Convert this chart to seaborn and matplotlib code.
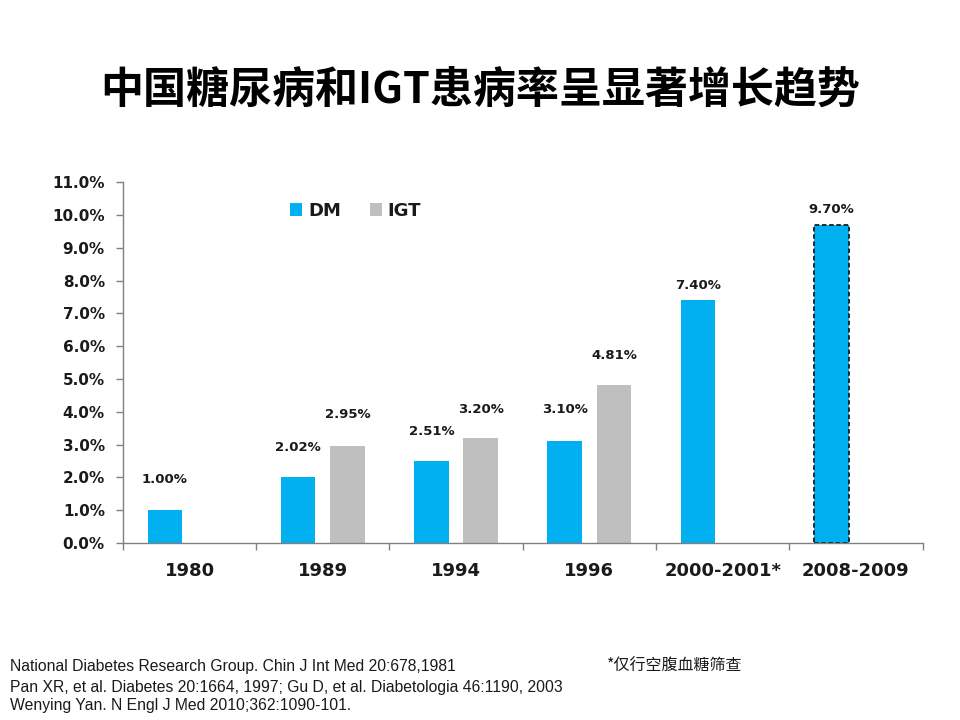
import numpy as np
import pandas as pd
import matplotlib
matplotlib.use("Agg")
import matplotlib.pyplot as plt
from matplotlib.ticker import FuncFormatter, FixedLocator
import seaborn as sns

# ---- data ----
periods = ["1980", "1989", "1994", "1996", "2000-2001*", "2008-2009"]
dm_values = [1.00, 2.02, 2.51, 3.10, 7.40, 9.70]
igt_values = [np.nan, 2.95, 3.20, 4.81, np.nan, np.nan]
series_names = ["DM", "IGT"]
title = "中国糖尿病和IGT患病率呈显著增长趋势"
footnotes = [
    "National Diabetes Research Group. Chin J Int Med 20:678,1981",
    "Pan XR, et al. Diabetes 20:1664, 1997; Gu D, et al. Diabetologia 46:1190, 2003",
    "Wenying Yan. N Engl J Med 2010;362:1090-101.",
]
note = "*仅行空腹血糖筛查"

rows = []
for p, d, g in zip(periods, dm_values, igt_values):
    rows.append({"period": p, "type": "DM", "value": d})
    rows.append({"period": p, "type": "IGT", "value": g})
df = pd.DataFrame(rows).dropna()

sns.set_theme(style="white")
plt.rcParams["font.family"] = ["DejaVu Sans"]

fig = plt.figure(figsize=(9.6, 7.2), dpi=100)
ax = fig.add_axes([0.128, 0.246, 0.833, 0.501])

sns.barplot(data=df, x="period", y="value", hue="type", order=periods,
            hue_order=series_names, palette={"DM": "#00B0F0", "IGT": "#BFBFBF"},
            width=0.74, gap=0.3, errorbar=None, ax=ax, linewidth=0,
            saturation=1)

# dashed outline on the last DM bar
last = ax.containers[0][len(periods) - 1]
last.set_edgecolor("#1a1a1a")
last.set_linestyle((0, (2.5, 1.5)))
last.set_linewidth(1.3)

# value labels
pads = {"DM": [17, 16, 16, 18, 6, 6], "IGT": [0, 18, 16, 17, 0, 0]}
for cont, name in zip(ax.containers, series_names):
    present = [p for p in periods if p in set(df[df.type == name].period)]
    for bar, p in zip(cont, present):
        i = periods.index(p)
        h = bar.get_height()
        ax.annotate(f"{h:.2f}%", (bar.get_x() + bar.get_width() / 2, h),
                    xytext=(0, pads[name][i]), textcoords="offset points",
                    ha="center", va="bottom", fontsize=9.5, fontweight="bold",
                    color="#1a1a1a")

ax.set_ylim(0, 11)
ax.set_xlim(-0.5, len(periods) - 0.5)
ax.yaxis.set_major_locator(FixedLocator(np.arange(0, 11.01, 1.0)))
ax.yaxis.set_major_formatter(FuncFormatter(lambda v, _: f"{v:.1f}%"))
ax.set_xlabel("")
ax.set_ylabel("")
for lab in ax.get_yticklabels():
    lab.set_fontweight("bold")
    lab.set_fontsize(11)
    lab.set_color("#1a1a1a")
for lab in ax.get_xticklabels():
    lab.set_fontweight("bold")
    lab.set_fontsize(13)
    lab.set_color("#1a1a1a")

ax.xaxis.set_minor_locator(FixedLocator(np.arange(-0.5, len(periods), 1.0)))
ax.tick_params(axis="x", which="major", length=0, pad=14)
ax.tick_params(axis="x", which="minor", length=5, color="#808080", width=1,
               direction="out", bottom=True)
ax.tick_params(axis="y", which="major", length=5, color="#808080", width=1,
               direction="out", left=True, pad=8)

for s in ["top", "right"]:
    ax.spines[s].set_visible(False)
for s in ["left", "bottom"]:
    ax.spines[s].set_color("#808080")
    ax.spines[s].set_linewidth(1)
ax.grid(False)

leg = ax.legend(loc="upper left", bbox_to_anchor=(0.285, 0.742),
                bbox_transform=fig.transFigure, frameon=False, ncol=2,
                handlelength=0.7, handleheight=0.7, handletextpad=0.3,
                columnspacing=1.6, prop={"weight": "bold", "size": 13})
for t in leg.get_texts():
    t.set_color("#1a1a1a")

fig.text(0.5, 0.875, title, ha="center", va="center", fontsize=31,
         fontweight="heavy", family=["Noto Sans CJK SC", "DejaVu Sans"],
         color="#000000")

ys = [0.075, 0.045, 0.020]
for t, y in zip(footnotes, ys):
    fig.text(0.010, y, t, ha="left", va="center", fontsize=11.3,
             family=["Liberation Sans", "DejaVu Sans"], color="#1a1a1a")
fig.text(0.632, 0.075, note, ha="left", va="center", fontsize=11.5,
         family=["Noto Sans CJK SC", "DejaVu Sans"], color="#1a1a1a")

fig.savefig("out.png", dpi=100, facecolor="white")
